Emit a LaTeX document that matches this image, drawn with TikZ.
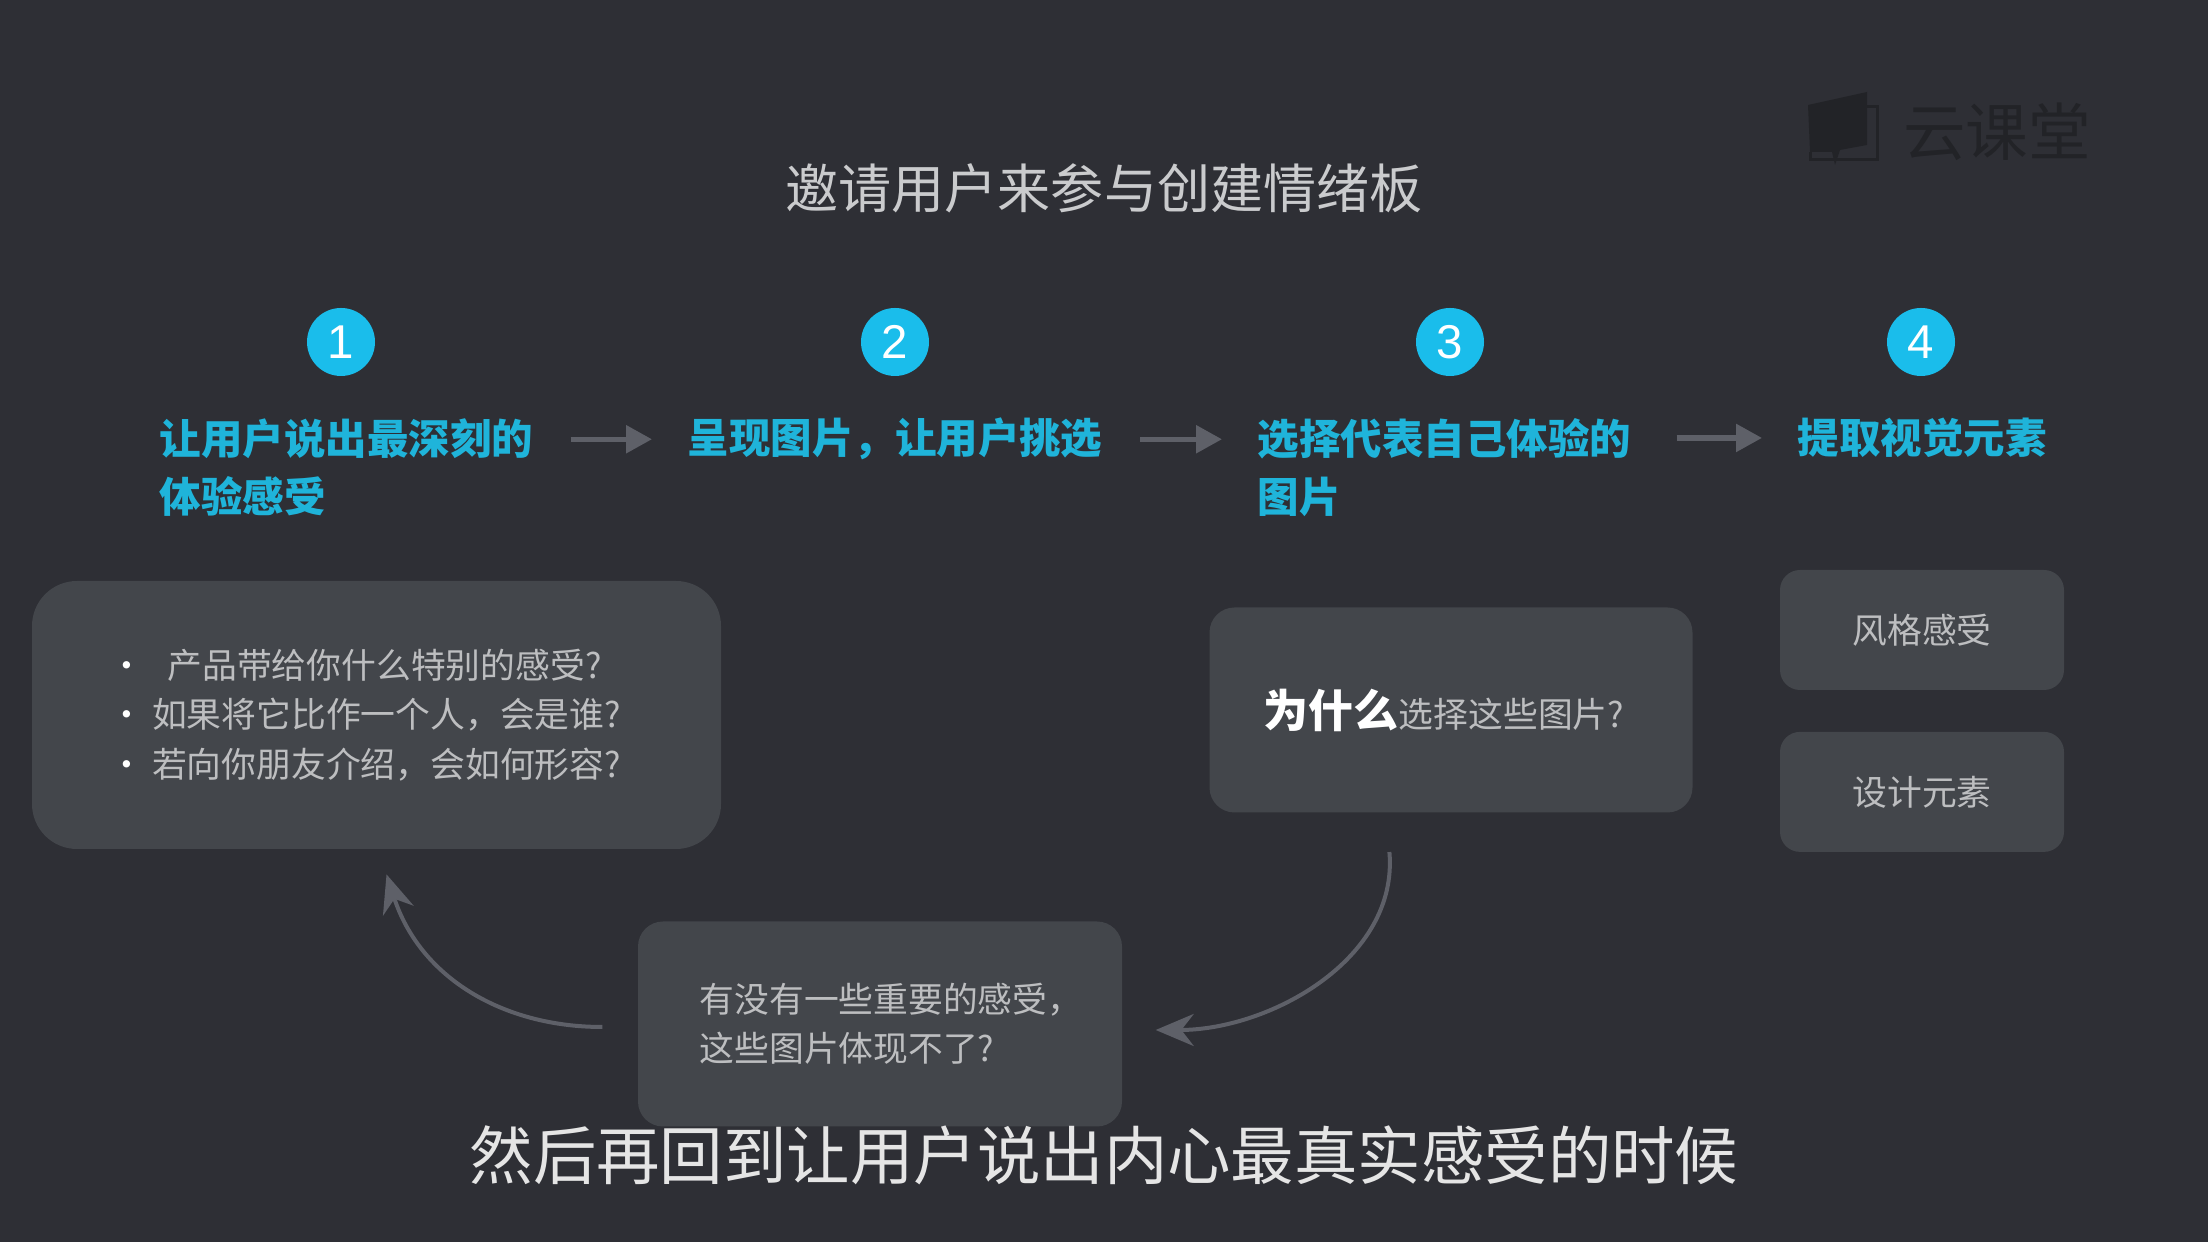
\documentclass[tikz,border=0pt]{standalone}
\usepackage{fontspec}
\setmainfont{Noto Sans CJK SC}
\newfontfamily\digitfont{Liberation Sans}
\usetikzlibrary{positioning,arrows.meta}
\definecolor{bgcol}{HTML}{2E2F35}
\definecolor{boxcol}{HTML}{43464B}
\definecolor{stepcol}{HTML}{1FB4DA}
\definecolor{dotcol}{HTML}{1ABDEB}
\definecolor{linecol}{HTML}{5E6068}
\definecolor{bodycol}{HTML}{BDBEC0}
\definecolor{logocol}{HTML}{222327}
\tikzset{
  stepdot/.style={circle, fill=dotcol, text=white, minimum size=0.68cm, inner sep=0pt, font=\fontsize{13.5}{13.5}\selectfont\digitfont},
  steptitle/.style={anchor=north west, inner sep=0pt, align=left, text=stepcol, font=\fontsize{11.8}{16.5}\selectfont\bfseries},
  greybox/.style={fill=boxcol, text=bodycol, font=\fontsize{9.9}{14}\selectfont},
  flowarrow/.style={draw=linecol, line width=0.055cm, -{Triangle[length=0.26cm,width=0.27cm]}, shorten <=0.37cm, shorten >=0.35cm},
  curvearrow/.style={draw=linecol, line width=0.04cm, -{Stealth[length=0.38cm,width=0.32cm]}},
}
\begin{document}
\begin{tikzpicture}
  \def\xbullet{\makebox[0.43cm][l]{\textcolor{white}{\textbullet}}}
  \def\xpad#1{\rule{#1}{0pt}}
  \useasboundingbox[fill=bgcol] (0,0) rectangle (22.08,12.42);
  % Logo
  \fill[logocol] (18.08,11.37) -- (18.67,11.50) -- (18.67,10.97) -- (18.40,10.92) -- (18.35,10.77) -- (18.32,10.90) -- (18.10,10.90) -- cycle;
  \draw[logocol, line width=0.03cm] (18.67,11.35) -- (18.77,11.35) -- (18.77,10.82) -- (18.10,10.82) -- (18.10,10.90);
  \node [text=logocol, inner sep=0pt, font=\fontsize{17.8}{17.8}\selectfont] (logo text) at (19.97,11.10) {云课堂};
  % Title
  \node [text=bodycol!80!white, inner sep=0pt, font=\fontsize{15.1}{15.1}\selectfont] (title) at (11.04,10.535) {邀请用户来参与创建情绪板};
  % Numbered dots
  \node [stepdot] (dot one) at (3.41,9.00) {1};
  \node [stepdot] (dot two) at (8.95,9.00) {2};
  \node [stepdot] (dot three) at (14.50,9.00) {3};
  \node [stepdot] (dot four) at (19.21,9.00) {4};
  % Step titles
  \node [steptitle] (step one) at (1.59,8.245) {让用户说出最深刻的\\体验感受};
  \node [steptitle] (step two) at (6.87,8.245) {呈现图片，让用户挑选};
  \node [steptitle] (step three) at (12.57,8.245) {选择代表自己体验的\\图片};
  \node [steptitle] (step four) at (17.97,8.245) {提取视觉元素};
  % Arrows between the steps
  \draw [flowarrow] (step one.east |- step two.west) -- (step two.west);
  \draw [flowarrow] (step two.east) -- (step three.west |- step two.east);
  \draw [flowarrow, shorten <=0.45cm] (step three.east |- step four.west) -- (step four.west);
  % Boxes
  \node [greybox, rounded corners=0.45cm, minimum width=6.89cm, minimum height=2.68cm, align=left] (questions) at (3.765,5.27) {%
    \xbullet\hspace{0.155cm}产品带给你什么特别的感受?\\
    \xbullet 如果将它比作一个人，会是谁?\xpad{0.23cm}\\
    \xbullet 若向你朋友介绍，会如何形容?\xpad{0.23cm}};
  \node [greybox, rounded corners=0.25cm, minimum width=4.83cm, minimum height=2.05cm] (why) at (14.51,5.32) {%
    {\fontsize{12.8}{14}\selectfont\bfseries\textcolor{white}{为什么}}选择这些图片?\xpad{0.14cm}};
  \node [greybox, rounded corners=0.2cm, minimum width=2.84cm, minimum height=1.2cm] (style) at (19.22,6.12) {风格感受};
  \node [greybox, rounded corners=0.2cm, minimum width=2.84cm, minimum height=1.2cm, below = 0.405cm of style] (element) {设计元素};
  \node [greybox, rounded corners=0.25cm, minimum width=4.84cm, minimum height=2.05cm, align=left] (missing) at (8.80,2.18) {%
    \xpad{0.22cm}有没有一些重要的感受，\\\xpad{0.22cm}这些图片体现不了?};
  % Curved arrows
  \draw [curvearrow, shorten <=0.39cm, shorten >=0.33cm] ([xshift=-0.65cm]why.south) to[out=-85,in=0,looseness=1.1] ([yshift=-0.06cm]missing.east);
  \draw [curvearrow, shorten <=0.35cm, shorten >=0.26cm] ([yshift=-0.03cm]missing.west) to[out=180,in=-72,looseness=1.1] ([xshift=0.02cm]questions.south);
  % Subtitle
  \node [text=white!90!black, inner sep=0pt, font=\fontsize{18.05}{18.05}\selectfont] (subtitle) at (11.04,0.87) {然后再回到让用户说出内心最真实感受的时候};
\end{tikzpicture}
\end{document}
